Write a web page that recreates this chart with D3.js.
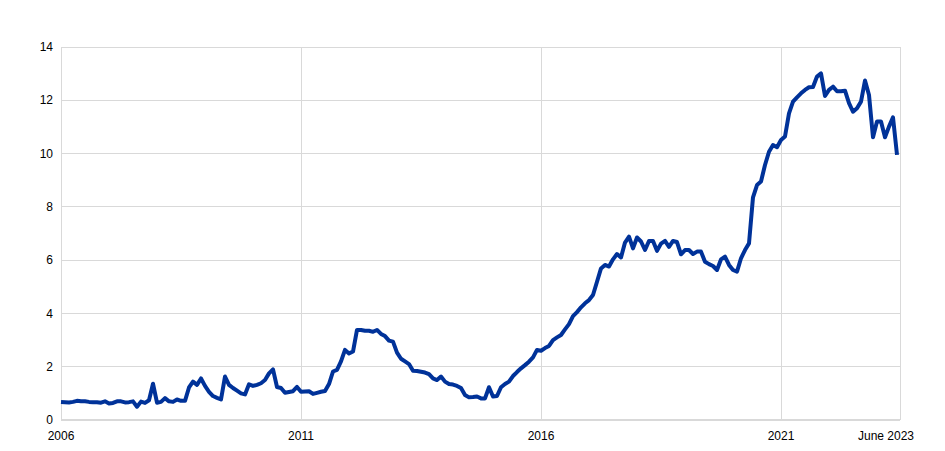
<!DOCTYPE html>
<html><head><meta charset="utf-8">
<script src="https://cdn.jsdelivr.net/npm/d3@7"></script>
<style>body{margin:0;background:#fff}svg{display:block}text{font-family:"Liberation Sans",Arial,sans-serif;font-size:12px;fill:#000}</style>
</head><body><svg id="c" width="945" height="451"></svg>
<script>
const startYear = 2006;
const values = [
0.68,0.67,0.66,0.68,0.72,0.70,0.70,0.68,0.67,0.67,0.65,0.70,
0.62,0.64,0.70,0.70,0.66,0.67,0.70,0.50,0.69,0.64,0.74,1.36,
0.65,0.68,0.82,0.70,0.68,0.77,0.72,0.72,1.22,1.44,1.32,1.56,
1.28,1.06,0.90,0.83,0.77,1.63,1.32,1.20,1.10,1.00,0.96,1.34,
1.28,1.32,1.38,1.50,1.75,1.90,1.24,1.20,1.02,1.05,1.08,1.24,
1.06,1.07,1.08,0.98,1.02,1.06,1.09,1.35,1.82,1.88,2.20,2.63,
2.50,2.57,3.38,3.38,3.35,3.35,3.31,3.38,3.23,3.15,2.98,2.94,
2.53,2.30,2.20,2.10,1.85,1.84,1.81,1.78,1.72,1.56,1.50,1.63,
1.44,1.35,1.33,1.28,1.20,0.94,0.85,0.86,0.88,0.81,0.81,1.23,
0.88,0.90,1.23,1.35,1.44,1.65,1.80,1.94,2.06,2.19,2.35,2.63,
2.60,2.70,2.78,3.00,3.10,3.19,3.40,3.60,3.90,4.05,4.23,4.38,
4.50,4.69,5.19,5.69,5.82,5.76,6.03,6.23,6.10,6.66,6.88,6.44,
6.85,6.70,6.38,6.72,6.72,6.35,6.62,6.72,6.50,6.72,6.68,6.22,
6.38,6.38,6.23,6.32,6.32,5.94,5.85,5.78,5.63,6.03,6.13,5.82,
5.63,5.57,6.07,6.38,6.63,8.36,8.82,8.95,9.57,10.07,10.32,10.24,
10.51,10.64,11.51,11.95,12.11,12.26,12.39,12.49,12.50,12.89,13.01,12.16,
12.39,12.51,12.34,12.34,12.36,11.89,11.57,11.70,11.95,12.74,12.20,10.61,
11.20,11.20,10.61,11.01,11.36,9.95
];
const xTickMonths = [0, 60, 120, 180];
const xTickLabels = ["2006", "2011", "2016", "2021"];
const endLabel = "June 2023";
const yTicks = [0, 2, 4, 6, 8, 10, 12, 14];

const svg = d3.select("#c");
const L = 61, R = 900, T = 47, B = 420;
const x = d3.scaleLinear().domain([0, 209.75]).range([L, R]);
const y = d3.scaleLinear().domain([0, 14]).range([B, T]);
const grid = "#d9d9d9";

// horizontal grid
svg.append("g").selectAll("line").data(yTicks.filter(d => d > 0)).join("line")
  .attr("x1", L).attr("x2", R).attr("y1", d => y(d)).attr("y2", d => y(d))
  .attr("stroke", grid).attr("stroke-width", 1).attr("shape-rendering", "crispEdges");
// vertical grid
svg.append("g").selectAll("line").data(xTickMonths.concat([209.75])).join("line")
  .attr("x1", d => x(d)).attr("x2", d => x(d)).attr("y1", T).attr("y2", B)
  .attr("stroke", grid).attr("stroke-width", 1).attr("shape-rendering", "crispEdges");
// bottom axis
svg.append("line").attr("x1", L).attr("x2", R).attr("y1", B).attr("y2", B)
  .attr("stroke", grid).attr("stroke-width", 2);

// y labels
svg.append("g").selectAll("text").data(yTicks).join("text")
  .attr("x", 53).attr("y", d => y(d)).attr("dy", "0.35em")
  .attr("text-anchor", "end").text(d => d);
// x labels
svg.append("g").selectAll("text").data(xTickMonths).join("text")
  .attr("x", d => x(d)).attr("y", 440).attr("text-anchor", "middle")
  .text((d, i) => xTickLabels[i]);
svg.append("text").attr("x", x(209) - 11).attr("y", 440).attr("text-anchor", "middle").text(endLabel);

// line
const line = d3.line().x((d, i) => x(i)).y(d => y(d));
svg.append("path").datum(values).attr("d", line)
  .attr("fill", "none").attr("stroke", "#003299").attr("stroke-width", 4)
  .attr("stroke-linejoin", "round").attr("stroke-linecap", "butt");
</script></body></html>
